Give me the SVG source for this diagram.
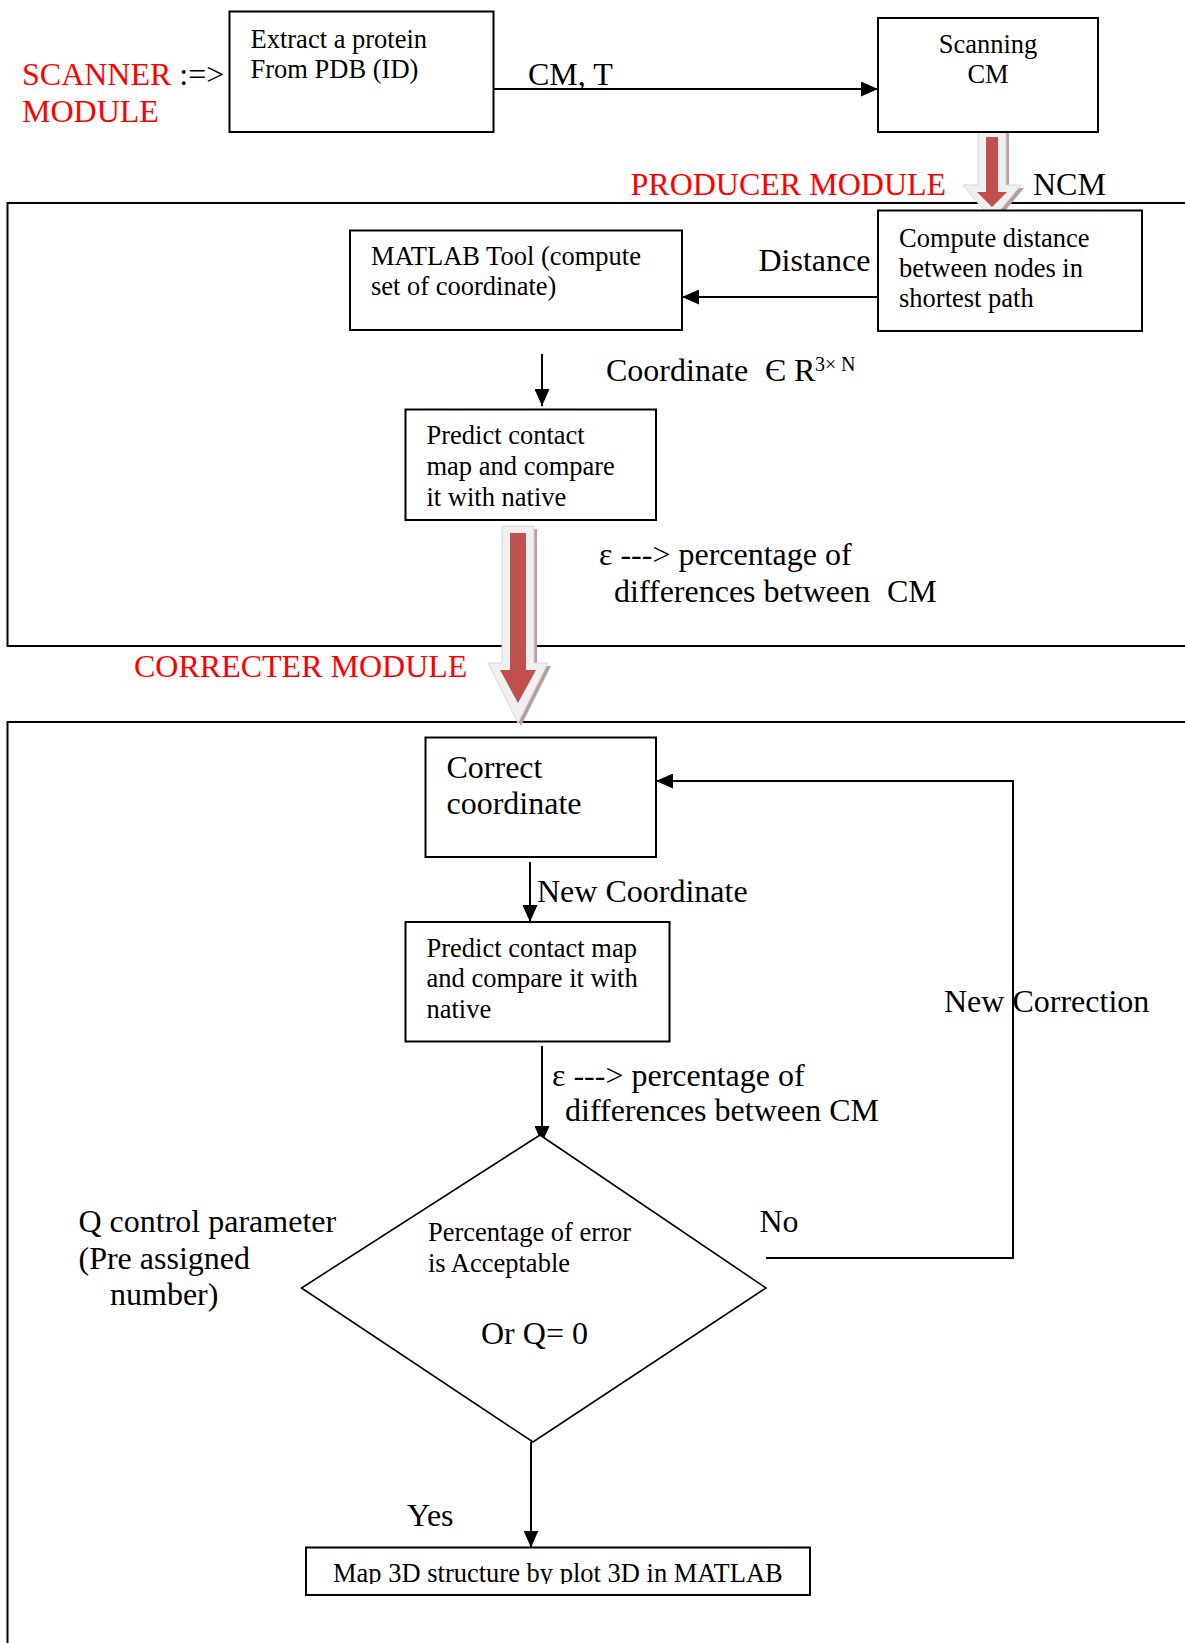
<svg xmlns="http://www.w3.org/2000/svg" width="1185" height="1643" viewBox="0 0 1185 1643">
<defs>
<style>
text{font-family:"Liberation Serif","Times New Roman",serif;fill:#000}
.b{font-size:26.5px}
.l{font-size:32px}
.sup{font-size:20px}
.red{fill:#ff0000}
.box{fill:#fff;stroke:#000;stroke-width:2}
.frame{fill:none;stroke:#000;stroke-width:2}
.con{fill:none;stroke:#000;stroke-width:2}
.dia{fill:#fff;stroke:#000;stroke-width:1.6}
.bo{fill:#f0f0f0;stroke:#d6d6d6;stroke-width:1}
.bs{fill:#bb9d9d}
.bi{fill:#c0504d}
</style>
<marker id="ah" markerUnits="userSpaceOnUse" markerWidth="17" markerHeight="15" refX="17" refY="7.5" orient="auto"><path d="M0,0 L17,7.5 L0,15 z" fill="#000"/></marker>
<clipPath id="mapclip"><rect x="300" y="1540" width="520" height="44"/></clipPath>
</defs>
<rect width="1185" height="1643" fill="#fff"/>

<g id="frames">
<path class="frame" d="M1190,203 H7.5 V646 H1190"/>
<path class="frame" d="M1190,722 H7.5 V1650"/>
</g>

<g id="module-labels">
<text class="l" x="22" y="85"><tspan class="red">SCANNER</tspan> :=&gt;</text>
<text class="l red" x="22" y="121.5">MODULE</text>
<text class="l red" x="630.5" y="195">PRODUCER MODULE</text>
<text class="l red" x="134" y="677">CORRECTER MODULE</text>
</g>

<g id="connectors">
<line class="con" x1="493.5" y1="89" x2="878" y2="89" marker-end="url(#ah)"/>
<line class="con" x1="878" y1="297" x2="682" y2="297" marker-end="url(#ah)"/>
<line class="con" x1="542" y1="354" x2="542" y2="406" marker-end="url(#ah)"/>
<line class="con" x1="530" y1="862" x2="530" y2="922" marker-end="url(#ah)"/>
<line class="con" x1="542" y1="1046" x2="542" y2="1143" marker-end="url(#ah)"/>
<line class="con" x1="531" y1="1442" x2="531" y2="1547.5" marker-end="url(#ah)"/>
<path class="con" d="M766,1258 H1013 V781 H656" marker-end="url(#ah)"/>
<g id="block-arrow-1">
<polygon class="bs" transform="translate(3,3)" points="978,129 1006,129 1006,185 1021,185 992,220 963,185 978,185"/>
<polygon class="bo" points="978,129 1006,129 1006,185 1021,185 992,220 963,185 978,185"/>
<polygon class="bi" points="986,137 998,137 998,192 1007,192 992,207 977,192 986,192"/>
</g>
<g id="block-arrow-2">
<polygon class="bs" transform="translate(3,3)" points="502,526 534,526 534,663 548,663 518,723 488,663 502,663"/>
<polygon class="bo" points="502,526 534,526 534,663 548,663 518,723 488,663 502,663"/>
<polygon class="bi" points="510,533 526,533 526,670 536,670 518,703 500,670 510,670"/>
</g>
</g>

<g id="connector-labels">
<text class="l" x="528" y="85">CM, T</text>
<text class="l" x="1033" y="195">NCM</text>
<text class="l" x="758.5" y="270.5">Distance</text>
<text class="l" x="606" y="381">Coordinate<tspan x="765">Є</tspan><tspan x="794">R</tspan><tspan class="sup" x="815" y="371">3×</tspan><tspan class="sup" x="841" y="371">N</tspan></text>
<text class="l" x="599" y="565">ε ---&gt; percentage of</text>
<text class="l" x="614" y="602">differences between<tspan x="887">CM</tspan></text>
<text class="l" x="537" y="901.5">New Coordinate</text>
<text class="l" x="944" y="1012">New Correction</text>
<text class="l" x="552" y="1086">ε ---&gt; percentage of</text>
<text class="l" x="565" y="1121">differences between CM</text>
<text class="l" x="78.5" y="1232">Q control parameter</text>
<text class="l" x="78.5" y="1268.5">(Pre assigned</text>
<text class="l" x="110" y="1304.5">number)</text>
<text class="l" x="759.5" y="1232">No</text>
<text class="l" x="407" y="1526">Yes</text>
</g>

<g id="node-extract">
<rect class="box" x="229.5" y="11.5" width="264" height="120.5"/>
<text class="b" x="250.5" y="47.5">Extract a protein</text>
<text class="b" x="250.5" y="77.5">From PDB (ID)</text>
</g>

<g id="node-scanning">
<rect class="box" x="878" y="18" width="220" height="114"/>
<text class="b" x="988" y="53" text-anchor="middle">Scanning</text>
<text class="b" x="988" y="83" text-anchor="middle">CM</text>
</g>

<g id="node-compute">
<rect class="box" x="878" y="210.5" width="264" height="120.5"/>
<text class="b" x="899" y="246.5">Compute distance</text>
<text class="b" x="899" y="276.5">between nodes in</text>
<text class="b" x="899" y="306.5">shortest path</text>
</g>

<g id="node-matlab">
<rect class="box" x="350" y="230.5" width="332" height="99.5"/>
<text class="b" x="371" y="265">MATLAB Tool (compute</text>
<text class="b" x="371" y="295">set of coordinate)</text>
</g>

<g id="node-predict1">
<rect class="box" x="405.5" y="409.5" width="250.5" height="110.5"/>
<text class="b" x="426.5" y="444">Predict contact</text>
<text class="b" x="426.5" y="475">map and compare</text>
<text class="b" x="426.5" y="505.5">it with native</text>
</g>

<g id="node-correct">
<rect class="box" x="425.5" y="737.5" width="230.5" height="119.5"/>
<text class="l" x="446.5" y="778">Correct</text>
<text class="l" x="446.5" y="814">coordinate</text>
</g>

<g id="node-predict2">
<rect class="box" x="405.5" y="922" width="264" height="119.5"/>
<text class="b" x="426.5" y="957">Predict contact map</text>
<text class="b" x="426.5" y="987">and compare it with</text>
<text class="b" x="426.5" y="1017.5">native</text>
</g>

<g id="node-decision">
<polygon class="dia" points="540,1135 766,1288 533,1442 301.5,1288"/>
<text class="b" x="428" y="1241">Percentage of error</text>
<text class="b" x="428" y="1272">is Acceptable</text>
<text class="l" x="481" y="1344">Or Q= 0</text>
</g>

<g id="node-map">
<rect class="box" x="306" y="1547.5" width="504" height="47.5"/>
<text class="b" x="333" y="1582" clip-path="url(#mapclip)">Map 3D structure by plot 3D in MATLAB</text>
</g>
</svg>
